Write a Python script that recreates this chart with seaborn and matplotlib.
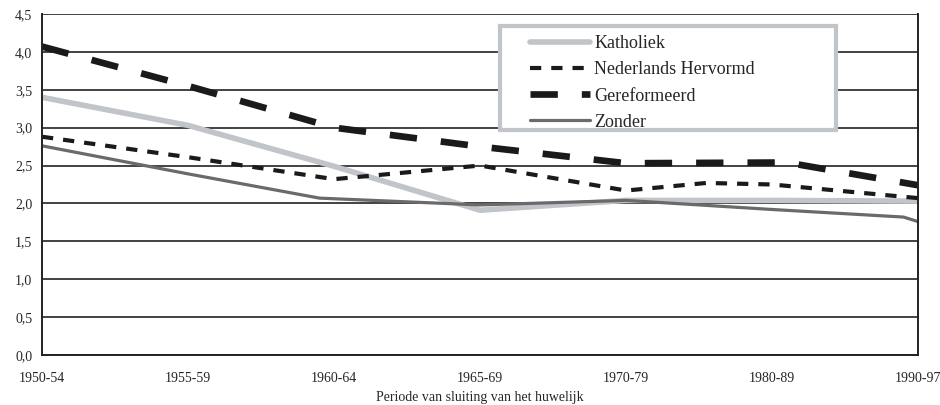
import numpy as np
import pandas as pd
import matplotlib
matplotlib.use("Agg")
import matplotlib.pyplot as plt
from matplotlib.patches import Rectangle
import seaborn as sns

# Periods on the x axis (equally spaced)
periods = ["1950-54", "1955-59", "1960-64", "1965-69", "1970-79", "1980-89", "1990-97"]

# Series values (x = position on the period axis)
kath_x = [0, 1.0, 2, 3, 4, 5, 6]
kath_y = [3.40, 3.03, 2.49, 1.91, 2.04, 2.04, 2.03]

nh_x = [0, 1, 2, 3, 4, 4.55, 5, 6]
nh_y = [2.88, 2.61, 2.32, 2.50, 2.17, 2.27, 2.25, 2.07]

geref_x = [0, 1, 2, 3, 4, 5.1, 6]
geref_y = [4.07, 3.55, 3.00, 2.75, 2.53, 2.54, 2.24]

zonder_x = [0, 1, 1.9, 3, 4, 5, 5.9, 6]
zonder_y = [2.76, 2.39, 2.07, 1.98, 2.04, 1.92, 1.82, 1.76]

sns.set_style("white")
plt.rcParams['font.family'] = ['Liberation Serif', 'DejaVu Serif']

fig = plt.figure(figsize=(9.4, 4.05), dpi=100)
ax = fig.add_axes([0.0447, 0.1235, 0.932, 0.842])

styles = [
    ("Katholiek", kath_x, kath_y, dict(color="#c1c4c8", lw=4.0, linestyle="-")),
    ("Nederlands Hervormd", nh_x, nh_y, dict(color="#1a1a1a", lw=3.0, linestyle=(0, (2.7, 2.4)))),
    ("Gereformeerd", geref_x, geref_y, dict(color="#1a1a1a", lw=4.8, linestyle=(0, (4.1, 3.6)))),
    ("Zonder", zonder_x, zonder_y, dict(color="#6a6a6a", lw=2.3, linestyle="-")),
]

for name, xs, ys, kw in styles:
    df = pd.DataFrame({"x": xs, "y": ys})
    sns.lineplot(data=df, x="x", y="y", ax=ax, label=name, sort=False, **kw)

ax.set_xlim(0, 6)
ax.set_ylim(0, 4.5)
ax.set_xticks(range(len(periods)))
ax.set_xticklabels(periods)
ax.set_yticks(np.arange(0, 4.51, 0.5))
ax.set_yticklabels([f"{v:.1f}".replace(".", ",") for v in np.arange(0, 4.51, 0.5)])

ax.yaxis.grid(True, color="#222222", lw=1.2)
ax.set_axisbelow(True)
for s in ["left", "bottom", "right"]:
    ax.spines[s].set_visible(True)
    ax.spines[s].set_color("#222222")
    ax.spines[s].set_linewidth(1.4)
ax.spines["top"].set_visible(False)

ax.tick_params(axis="x", direction="inout", length=7, width=1.2, labelsize=10, pad=9, color="#222222")
ax.tick_params(axis="y", direction="out", length=4, width=1.2, labelsize=10, pad=3, color="#222222")
ax.set_ylabel("")
ax.set_xlabel("Periode van sluiting van het huwelijk", fontsize=10, labelpad=4)

# legend box drawn separately so its padding matches the original
box = Rectangle((0.5228, 0.6598), 0.3836, 0.305, transform=ax.transAxes,
                facecolor="white", edgecolor="#c1c4c8", lw=3, zorder=4)
ax.add_patch(box)

leg = ax.legend(loc="upper left", bbox_to_anchor=(0.557, 0.937), fontsize=13,
                frameon=False, handlelength=3.3, handletextpad=0.25,
                labelspacing=0.5, borderpad=0, borderaxespad=0)
leg.set_zorder(5)

fig.savefig("out.png", dpi=100)
